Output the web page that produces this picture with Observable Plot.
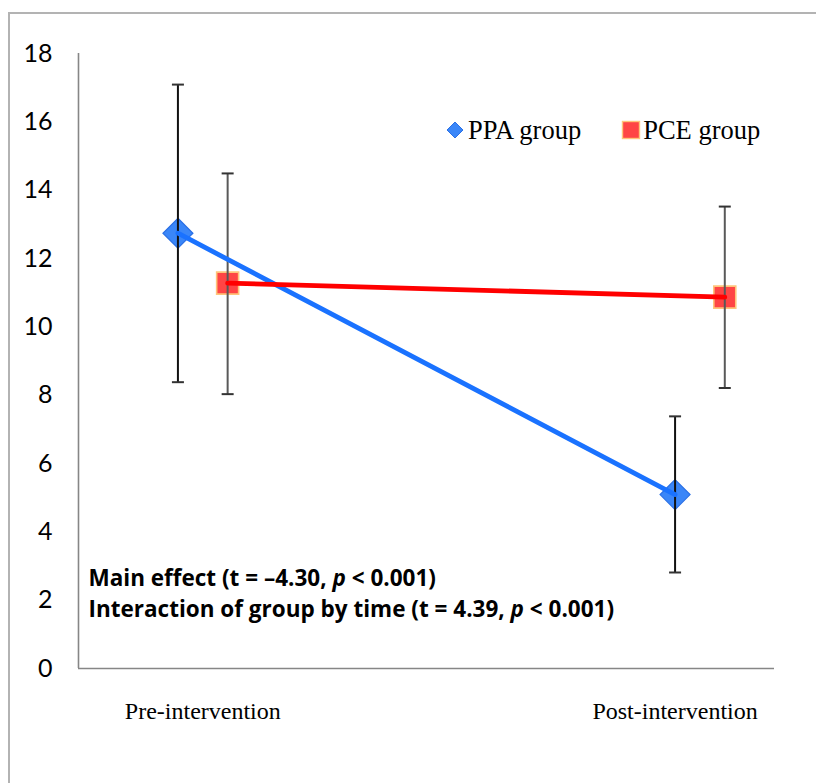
<!DOCTYPE html>
<html>
<head>
<meta charset="utf-8">
<script src="https://cdn.jsdelivr.net/npm/d3@7"></script>
<script src="https://cdn.jsdelivr.net/npm/@observablehq/plot@0.6"></script>
<style>
  html, body { margin: 0; padding: 0; background: #fff; }
  #wrap { position: relative; width: 816px; height: 783px; overflow: hidden; background: #fff; }
  #border { position: absolute; left: 8px; top: 12px; width: 900px; height: 900px; border: 2px solid #b3b3b3; box-sizing: border-box; pointer-events: none; }
  #chart { position: absolute; left: 0; top: 0; }
  #legend { position: absolute; left: 445px; top: 115px; height: 30px; line-height: 30px; display: flex; align-items: center; font-family: "Liberation Serif", "Times New Roman", serif; font-size: 26.5px; color: #000; white-space: nowrap; }
  #legend .item { display: flex; align-items: center; }
  #legend svg { display: block; }
</style>
</head>
<body>
<div id="wrap">
  <div id="chart"></div>
  <div id="border"></div>
  <div id="legend"></div>
</div>
<script>
// ---- data ----
const categories = ["Pre-intervention", "Post-intervention"];
const categoryTicks = [1.05, 2];
const groups = ["PPA group", "PCE group"];

const ppaX = [1, 2];
const ppaMean = [12.74, 5.09];
const ppaLow = [8.38, 2.81];
const ppaHigh = [17.09, 7.38];

const pceX = [1.1, 2.1];
const pceMean = [11.28, 10.87];
const pceLow = [8.03, 8.21];
const pceHigh = [14.49, 13.52];

const yTicks = [0, 2, 4, 6, 8, 10, 12, 14, 16, 18];
const annotationLines = [
  "Main effect (t = \u20134.30, p < 0.001)",
  "Interaction of group by time (t = 4.39, p < 0.001)"
];

// ---- build table ----
const ppa = ppaX.map((x, i) => ({group: groups[0], x, mean: ppaMean[i], low: ppaLow[i], high: ppaHigh[i]}));
const pce = pceX.map((x, i) => ({group: groups[1], x, mean: pceMean[i], low: pceLow[i], high: pceHigh[i]}));

const xDomain = [0.8, 2.2];
const yDomain = [0, 18];

const capSymbol = { draw(ctx) { ctx.moveTo(-6, 0); ctx.lineTo(6, 0); } };

const blueFill = "#3a86f8", blueStroke = "#2a70e6", blueLine = "#1a72ff";
const redFill = "#ff4545", redStroke = "#ffc47a", redLine = "#ff0000";

const chart = Plot.plot({
  width: 816,
  height: 783,
  marginLeft: 78,
  marginRight: 42,
  marginTop: 53,
  marginBottom: 115,
  style: { fontFamily: "Lato, 'Open Sans', sans-serif", fontSize: "22px", color: "#000", background: "transparent" },
  x: { domain: xDomain },
  y: { domain: yDomain },
  marks: [
    Plot.axisY({ ticks: yTicks, tickSize: 0, tickPadding: 26, fontSize: 25, fontFamily: "Lato, sans-serif", label: null }),
    Plot.axisX({ ticks: categoryTicks, tickFormat: (d, i) => categories[i], tickSize: 0, tickPadding: 33,
                 fontSize: 24, fontFamily: "'Liberation Serif', 'Times New Roman', serif", label: null }),
    Plot.ruleX([xDomain[0]], { y1: yDomain[0], y2: yDomain[1], stroke: "#868686", strokeWidth: 1.6 }),
    Plot.ruleY([yDomain[0]], { x1: xDomain[0], x2: xDomain[1], stroke: "#868686", strokeWidth: 1.6 }),
    // markers
    Plot.dot(ppa, { x: "x", y: "mean", symbol: "diamond2", r: 13.5, fill: blueFill, stroke: blueStroke, strokeWidth: 1.2 }),
    Plot.dot(pce, { x: "x", y: "mean", symbol: "square", r: 12.4, fill: redFill, stroke: redStroke, strokeWidth: 1.6 }),
    // error bars
    Plot.link(ppa, { x1: "x", x2: "x", y1: "low", y2: "high", stroke: "#111", strokeWidth: 2 }),
    Plot.dot(ppa, { x: "x", y: "low", symbol: capSymbol, stroke: "#333", strokeWidth: 2 }),
    Plot.dot(ppa, { x: "x", y: "high", symbol: capSymbol, stroke: "#333", strokeWidth: 2 }),
    Plot.link(pce, { x1: "x", x2: "x", y1: "low", y2: "high", stroke: "#595959", strokeWidth: 2 }),
    Plot.dot(pce, { x: "x", y: "low", symbol: capSymbol, stroke: "#333", strokeWidth: 2 }),
    Plot.dot(pce, { x: "x", y: "high", symbol: capSymbol, stroke: "#333", strokeWidth: 2 }),
    // lines
    Plot.line(ppa, { x: "x", y: "mean", stroke: blueLine, strokeWidth: 4.8 }),
    Plot.line(pce, { x: "x", y: "mean", stroke: redLine, strokeWidth: 4.8 }),
    // annotation
    Plot.text([annotationLines.join("\n")], {
      frameAnchor: "bottom-left", textAnchor: "start", lineAnchor: "middle",
      dx: 10, dy: -77, lineHeight: 1.38, fontSize: 22.5, fontWeight: "bold",
      fontFamily: "'Open Sans', sans-serif", fill: "#000", className: "annot"
    })
  ]
});

document.getElementById("chart").appendChild(chart);

// italicize the "p" in the annotation
d3.select(chart).selectAll("g.annot text tspan, g.annot text").each(function () {
  const el = this;
  if (el.tagName === "text" && el.querySelector("tspan")) return;
  const txt = el.textContent;
  const idx = txt.indexOf(", p <");
  if (idx < 0) return;
  const before = txt.slice(0, idx + 2);
  const after = txt.slice(idx + 3);
  el.textContent = "";
  const ns = "http://www.w3.org/2000/svg";
  const a = document.createElementNS(ns, "tspan"); a.textContent = before;
  const b = document.createElementNS(ns, "tspan"); b.textContent = "p"; b.setAttribute("font-style", "italic");
  const c = document.createElementNS(ns, "tspan"); c.textContent = after;
  el.appendChild(a); el.appendChild(b); el.appendChild(c);
});

// legend
const legend = d3.select("#legend");
const l1 = legend.append("div").attr("class", "item");
const s1 = l1.append("svg").attr("width", 20).attr("height", 20).style("margin-right", "3px");
s1.append("path").attr("d", "M10,2 L18,10 L10,18 L2,10 Z").attr("fill", blueFill).attr("stroke", blueStroke).attr("stroke-width", 1);
l1.append("span").text(groups[0]);
const l2 = legend.append("div").attr("class", "item").style("margin-left", "40px");
const s2 = l2.append("svg").attr("width", 20).attr("height", 20).style("margin-right", "2px");
s2.append("rect").attr("x", 1.5).attr("y", 1.5).attr("width", 17).attr("height", 17).attr("fill", redFill).attr("stroke", redStroke).attr("stroke-width", 1.4);
l2.append("span").text(groups[1]);
</script>
</body>
</html>
